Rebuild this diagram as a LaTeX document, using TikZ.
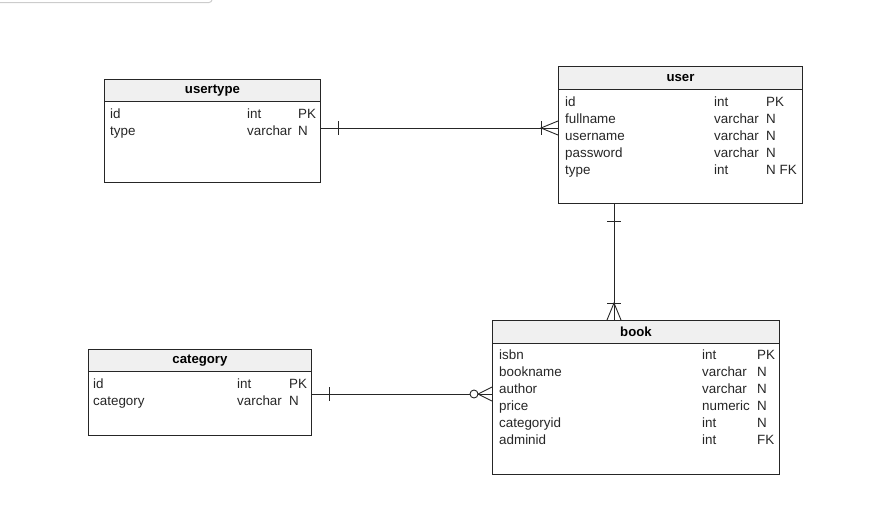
\documentclass[tikz,border=0pt]{standalone}
\usepackage{fontspec}
\setmainfont{Liberation Sans}
\begin{document}
\begin{tikzpicture}[x=1pt,y=-1pt,
  lc/.style={draw=black!85, line width=0.9pt},
  tbl/.style={lc, rectangle, inner sep=0pt, anchor=north west},
  hdr/.style={lc, fill=black!6, rectangle, inner sep=0pt, anchor=north west, font=\fontsize{13.2}{15}\selectfont\bfseries},
  cell/.style={anchor=base west, inner sep=0pt, font=\fontsize{13.4}{15}\selectfont, text=black!85},
  rel/.style={draw=black!85, line width=0.9pt}]
\useasboundingbox (0,0) rectangle (892,507);
\draw[black!20, line width=1pt] (0,2.5) -- (209,2.5) arc[start angle=90, end angle=0, radius=3] -- (212,0);
% usertype
\node[tbl, minimum width=216, minimum height=103] (ut) at (104,79) {};
\node[hdr, minimum width=216, minimum height=22] (uth) at (104,79) {usertype};
\node[cell] (ut1a) at (110,118.5) {id};
\node[cell] (ut1b) at (247,118.5) {int};
\node[cell] (ut1c) at (298,118.5) {PK};
\node[cell] (ut2a) at (110,135.5) {type};
\node[cell] (ut2b) at (247,135.5) {varchar};
\node[cell] (ut2c) at (298,135.5) {N};
% user
\node[tbl, minimum width=244, minimum height=137] (us) at (558,66) {};
\node[hdr, minimum width=244, minimum height=23] (ush) at (558,66) {user};
\node[cell] (us1a) at (565,106) {id};
\node[cell] (us1b) at (714,106) {int};
\node[cell] (us1c) at (766,106) {PK};
\node[cell] (us2a) at (565,123) {fullname};
\node[cell] (us2b) at (714,123) {varchar};
\node[cell] (us2c) at (766,123) {N};
\node[cell] (us3a) at (565,140) {username};
\node[cell] (us3b) at (714,140) {varchar};
\node[cell] (us3c) at (766,140) {N};
\node[cell] (us4a) at (565,157) {password};
\node[cell] (us4b) at (714,157) {varchar};
\node[cell] (us4c) at (766,157) {N};
\node[cell] (us5a) at (565,174) {type};
\node[cell] (us5b) at (714,174) {int};
\node[cell] (us5c) at (766,174) {N FK};
% category
\node[tbl, minimum width=223, minimum height=86] (ca) at (88,349) {};
\node[hdr, minimum width=223, minimum height=22] (cah) at (88,349) {category};
\node[cell] (ca1a) at (93,388) {id};
\node[cell] (ca1b) at (237,388) {int};
\node[cell] (ca1c) at (289,388) {PK};
\node[cell] (ca2a) at (93,405) {category};
\node[cell] (ca2b) at (237,405) {varchar};
\node[cell] (ca2c) at (289,405) {N};
% book
\node[tbl, minimum width=287, minimum height=154] (bk) at (492,320) {};
\node[hdr, minimum width=287, minimum height=23] (bkh) at (492,320) {book};
\node[cell] (bk1a) at (499,359) {isbn};
\node[cell] (bk1b) at (702,359) {int};
\node[cell] (bk1c) at (757,359) {PK};
\node[cell] (bk2a) at (499,376.5) {bookname};
\node[cell] (bk2b) at (702,376.5) {varchar};
\node[cell] (bk2c) at (757,376.5) {N};
\node[cell] (bk3a) at (499,393.5) {author};
\node[cell] (bk3b) at (702,393.5) {varchar};
\node[cell] (bk3c) at (757,393.5) {N};
\node[cell] (bk4a) at (499,410.5) {price};
\node[cell] (bk4b) at (702,410.5) {numeric};
\node[cell] (bk4c) at (757,410.5) {N};
\node[cell] (bk5a) at (499,427.5) {categoryid};
\node[cell] (bk5b) at (702,427.5) {int};
\node[cell] (bk5c) at (757,427.5) {N};
\node[cell] (bk6a) at (499,444.5) {adminid};
\node[cell] (bk6b) at (702,444.5) {int};
\node[cell] (bk6c) at (757,444.5) {FK};
% usertype -- user
\draw[rel] (ut.east |- 0,128) coordinate (a1) -- (us.west |- 0,128) coordinate (a2);
\draw[rel] ([xshift=18]a1) ++(0,-7) -- ++(0,14);
\draw[rel] ([xshift=-17]a2) ++(0,-7) -- ++(0,14);
\draw[rel] ([yshift=-7]a2) -- ([xshift=-17]a2) -- ([yshift=7]a2);
% user -- book
\draw[rel] (us.south -| 614,0) coordinate (b1) -- (bk.north -| 614,0) coordinate (b2);
\draw[rel] ([yshift=-18]b1) ++(-7,0) -- ++(14,0);
\draw[rel] ([yshift=17]b2) ++(-7,0) -- ++(14,0);
\draw[rel] ([xshift=-7]b2) -- ([yshift=17]b2) -- ([xshift=7]b2);
% category -- book
\draw[rel] (ca.east |- 0,394) coordinate (c1) -- ([xshift=-22]bk.west |- 0,394);
\coordinate (c2) at (bk.west |- 0,394);
\draw[rel] ([xshift=18]c1) ++(0,-7) -- ++(0,14);
\draw[rel] ([yshift=-7]c2) -- ([xshift=-14]c2) -- ([yshift=7]c2);
\draw[rel] ([xshift=-14]c2) -- (c2);
\draw[rel, fill=white] ([xshift=-18]c2) circle[radius=4];
\end{tikzpicture}
\end{document}
